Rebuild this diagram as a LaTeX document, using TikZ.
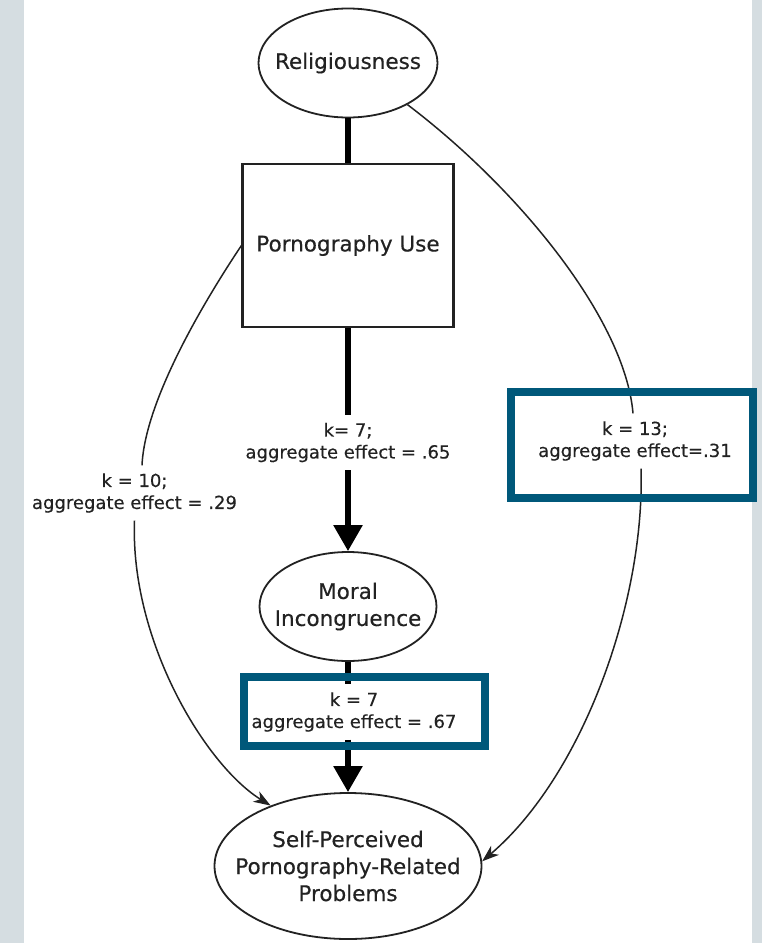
\documentclass[tikz,border=0pt]{standalone}
\usepackage{fontspec}
\setmainfont{DejaVu Sans}[FakeBold=0.35]
\usetikzlibrary{arrows.meta,shapes.geometric}

\definecolor{pagegray}{HTML}{D5DDE1}
\definecolor{hiblue}{HTML}{00587A}
\definecolor{ink}{HTML}{222222}

\newcommand\diagnodefont{\fontsize{21.5}{27}\selectfont}
\newcommand\diaglabelfont{\fontsize{18}{22}\selectfont}

\begin{document}
\begin{tikzpicture}[x=1pt,y=-1pt,
  every node/.style={text=ink},
  oval/.style={ellipse, draw=ink, line width=1.8pt, fill=white,
    inner xsep=-50pt, inner ysep=-15pt, align=center, font=\diagnodefont},
  varbox/.style={rectangle, draw=ink, line width=2.2pt, fill=white,
    inner sep=0pt, align=center, font=\diagnodefont},
  effect/.style={align=center, inner sep=0pt, minimum height=55pt,
    font=\diaglabelfont},
  hilite/.style={rectangle, draw=hiblue, line width=8pt, inner sep=0pt},
  heavy/.style={draw=black, line width=5.5pt},
  heavytip/.style={-{Triangle[length=26pt,width=28pt]}},
  thinpath/.style={draw=ink, line width=1.5pt},
  thintip/.style={-{Stealth[length=17pt,width=12pt,inset=5pt]}},
]
  % page and white panel
  \fill[pagegray] (0,0) rectangle (762,943);
  \fill[white] (24,0) rectangle (752,943);
  \useasboundingbox (0,0) rectangle (762,943);

  % constructs
  \node[oval, minimum width=179pt, minimum height=109pt] (rel) at (348,63) {Religiousness};
  \node[varbox, minimum width=211pt, minimum height=163pt] (puse) at (348,245.5) {Pornography Use};
  \node[oval, minimum width=177pt, minimum height=109pt] (moral) at (348,606.5) {Moral\\Incongruence};
  \node[oval, minimum width=267pt, minimum height=146pt] (self) at (348,866)
    {Self-Perceived\\Pornography-Related\\Problems};

  % path labels
  \node[effect] (e65) at (348,442.5) {k= 7;\\aggregate effect = .65};
  \node[effect] (e29) at (134.5,493) {k = 10;\\aggregate effect = .29};
  \node[effect] (e31) at (635,441) {k = 13;\\aggregate effect=.31};
  \node[effect] (e67) at (354,712) {k = 7\\aggregate effect = .67};

  % direct paths
  \draw[heavy] (rel.south) -- (puse.north);
  \draw[heavy] (puse.south) -- (e65.north);
  \draw[heavy, heavytip] (e65.south) -- (moral.north);
  \draw[heavy] (moral.south) -- (moral.south |- e67.north);
  \draw[heavy, heavytip] (moral.south |- e67.south) -- (self.north);

  % curved paths
  \draw[thinpath] (puse.west) .. controls (205,300) and (145,400) .. ([xshift=7.5pt]e29.north);
  \draw[thinpath, thintip] (e29.south) .. controls (130,640) and (205,765) .. (self.142);
  \draw[thinpath] (rel.-35) .. controls (520,190) and (625,320) .. ([xshift=-2pt]e31.north);
  \draw[thinpath, thintip] ([xshift=6pt]e31.south) .. controls (645,600) and (584,774) .. (self.2);

  % highlight frames
  \node[hilite, minimum width=241pt, minimum height=69pt] (h67) at (364.5,711.5) {};
  \node[hilite, minimum width=242pt, minimum height=106pt] (h31) at (632,445) {};
\end{tikzpicture}
\end{document}
